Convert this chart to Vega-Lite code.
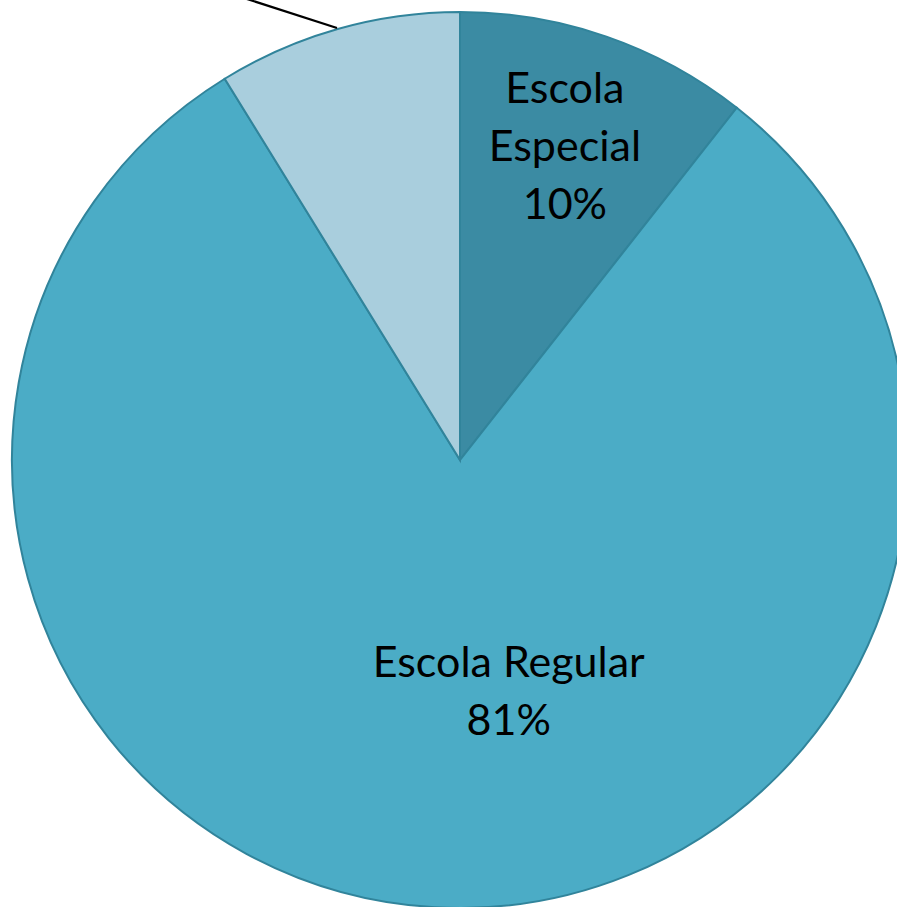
{
  "$schema": "https://vega.github.io/schema/vega-lite/v6.json",
  "width": 920,
  "height": 920,
  "autosize": "none",
  "padding": 0,
  "background": "white",
  "config": {"view": {"stroke": null}},
  "datasets": {
    "slices": [
      {"idx": 1, "categoria": "Escola Especial", "value": 10.6, "label": ["Escola", "Especial", "10%"]},
      {"idx": 2, "categoria": "Escola Regular", "value": 80.6, "label": ["Escola Regular", "81%"]},
      {"idx": 3, "categoria": "Outro", "value": 8.8, "label": ""}
    ],
    "leader": [
      {"px": -0.2746, "py": 0.9643},
      {"px": -0.5379, "py": 1.0491}
    ]
  },
  "layer": [
    {
      "data": {"name": "slices"},
      "mark": {"type": "arc", "outerRadius": 448, "stroke": "#31849B", "strokeWidth": 2},
      "encoding": {
        "theta": {"field": "value", "type": "quantitative", "stack": true},
        "order": {"field": "idx", "type": "quantitative"},
        "color": {
          "field": "categoria", "type": "nominal", "legend": null,
          "scale": {"domain": ["Escola Especial", "Escola Regular", "Outro"], "range": ["#3B8BA3", "#4BACC6", "#A9CEDD"]}
        }
      }
    },
    {
      "data": {"name": "slices"},
      "mark": {"type": "text", "radius": 327, "dx": -2, "dy": -48, "font": "Lato", "fontSize": 43, "lineHeight": 58, "align": "center", "baseline": "alphabetic", "color": "black"},
      "encoding": {
        "theta": {"field": "value", "type": "quantitative", "stack": true},
        "order": {"field": "idx", "type": "quantitative"},
        "text": {"condition": {"test": "datum.categoria == 'Escola Especial'", "field": "label"}, "value": ""}
      }
    },
    {
      "data": {"name": "slices"},
      "mark": {"type": "text", "radius": 235, "dx": 62, "dy": -18, "font": "Lato", "fontSize": 43, "lineHeight": 58, "align": "center", "baseline": "alphabetic", "color": "black"},
      "encoding": {
        "theta": {"field": "value", "type": "quantitative", "stack": true},
        "order": {"field": "idx", "type": "quantitative"},
        "text": {"condition": {"test": "datum.categoria == 'Escola Regular'", "field": "label"}, "value": ""}
      }
    },
    {
      "data": {"name": "leader"},
      "mark": {"type": "line", "color": "black", "strokeWidth": 2.2, "clip": false},
      "encoding": {
        "x": {"field": "px", "type": "quantitative", "axis": null, "scale": {"domain": [-1.02679, 1.02679], "nice": false, "zero": false}},
        "y": {"field": "py", "type": "quantitative", "axis": null, "scale": {"domain": [-1.02679, 1.02679], "nice": false, "zero": false}}
      }
    }
  ]
}
